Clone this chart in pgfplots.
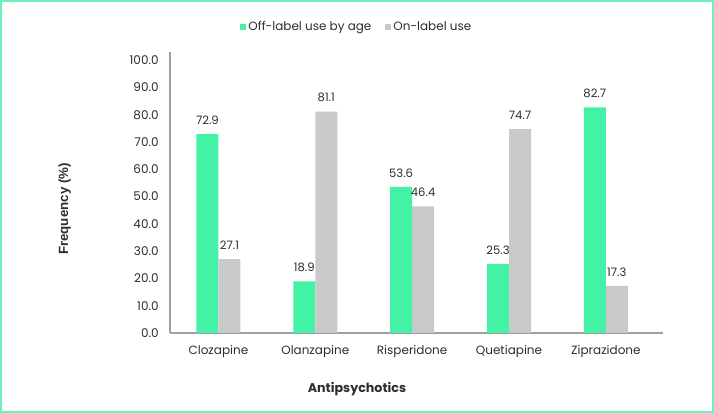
\documentclass[border=0pt]{standalone}
\usepackage{fontspec}
\setmainfont{Poppins}
\newfontfamily\arialf{Liberation Sans}
\usepackage{pgfplots}
\pgfplotsset{compat=1.18}
\definecolor{offg}{RGB}{68,242,166}
\definecolor{ong}{RGB}{201,201,201}
\definecolor{frameg}{RGB}{110,240,184}
\definecolor{axg}{RGB}{160,160,160}
\definecolor{txt}{RGB}{45,45,45}
\begin{document}
\begin{tikzpicture}
\useasboundingbox (0,0) rectangle (535.5pt,309.75pt);
\draw[frameg, line width=1.2pt] (0.6pt,0.6pt) rectangle (534.9pt,309.15pt);
\begin{axis}[
  at={(127.5pt,60pt)}, anchor=south west,
  scale only axis, width=369.75pt, height=210.75pt,
  ymin=0, ymax=103, xmin=-0.5, xmax=4.59,
  axis x line=bottom, axis y line=left,
  axis line style={-, draw=axg, line width=0.8pt},
  major tick length=0pt,
  xtick=data,
  xticklabels={Clozapine,Olanzapine,Risperidone,Quetiapine,Ziprazidone},
  ytick={0,10,...,100},
  /pgf/number format/assume math mode=true,
  ticklabel style={font=\fontsize{9}{10}\selectfont, text=txt},
  xticklabel style={yshift=-6pt},
  yticklabel style={xshift=-5pt, /pgf/number format/.cd,fixed,zerofill,precision=1},
  ybar, bar width=16.5pt,
  nodes near coords,
  point meta=explicit,
  nodes near coords style={font=\fontsize{8.7}{10}\selectfont, text=txt, anchor=center, yshift=10.5pt, /pgf/number format/.cd,fixed,zerofill,precision=1, assume math mode=true},
  legend style={at={(0.379,1.088)}, anchor=center, draw=none, fill=none, legend columns=2,
    font=\fontsize{9}{10}\selectfont\color{txt}, /tikz/every even column/.append style={column sep=8pt}},
  legend image code/.code={\fill[#1] (0pt,-2.2pt) rectangle (4.5pt,2.2pt);},
  clip=false,
]
\addplot[fill=offg, draw=none, bar shift=-8.25pt] coordinates {(0,72.9) [72.9] (1,18.9) [18.9] (2,53.6) [53.6] (3,25.3) [25.3] (4,82.7) [82.7]};
\addplot[fill=ong, draw=none, bar shift=8.25pt] coordinates {(0,27.1) [27.1] (1,81.1) [81.1] (2,46.4) [46.4] (3,74.7) [74.7] (4,17.3) [17.3]};
\legend{Off-label use by age, On-label use}
\end{axis}
\node[font=\fontsize{9.5}{11}\selectfont\bfseries, text=txt] at (267.75pt,18pt) {Antipsychotics};
\node[font=\arialf\fontsize{10}{12}\selectfont\bfseries, text=txt, rotate=90] at (48.5pt,153pt) {Frequency (\%)};
\end{tikzpicture}
\end{document}
